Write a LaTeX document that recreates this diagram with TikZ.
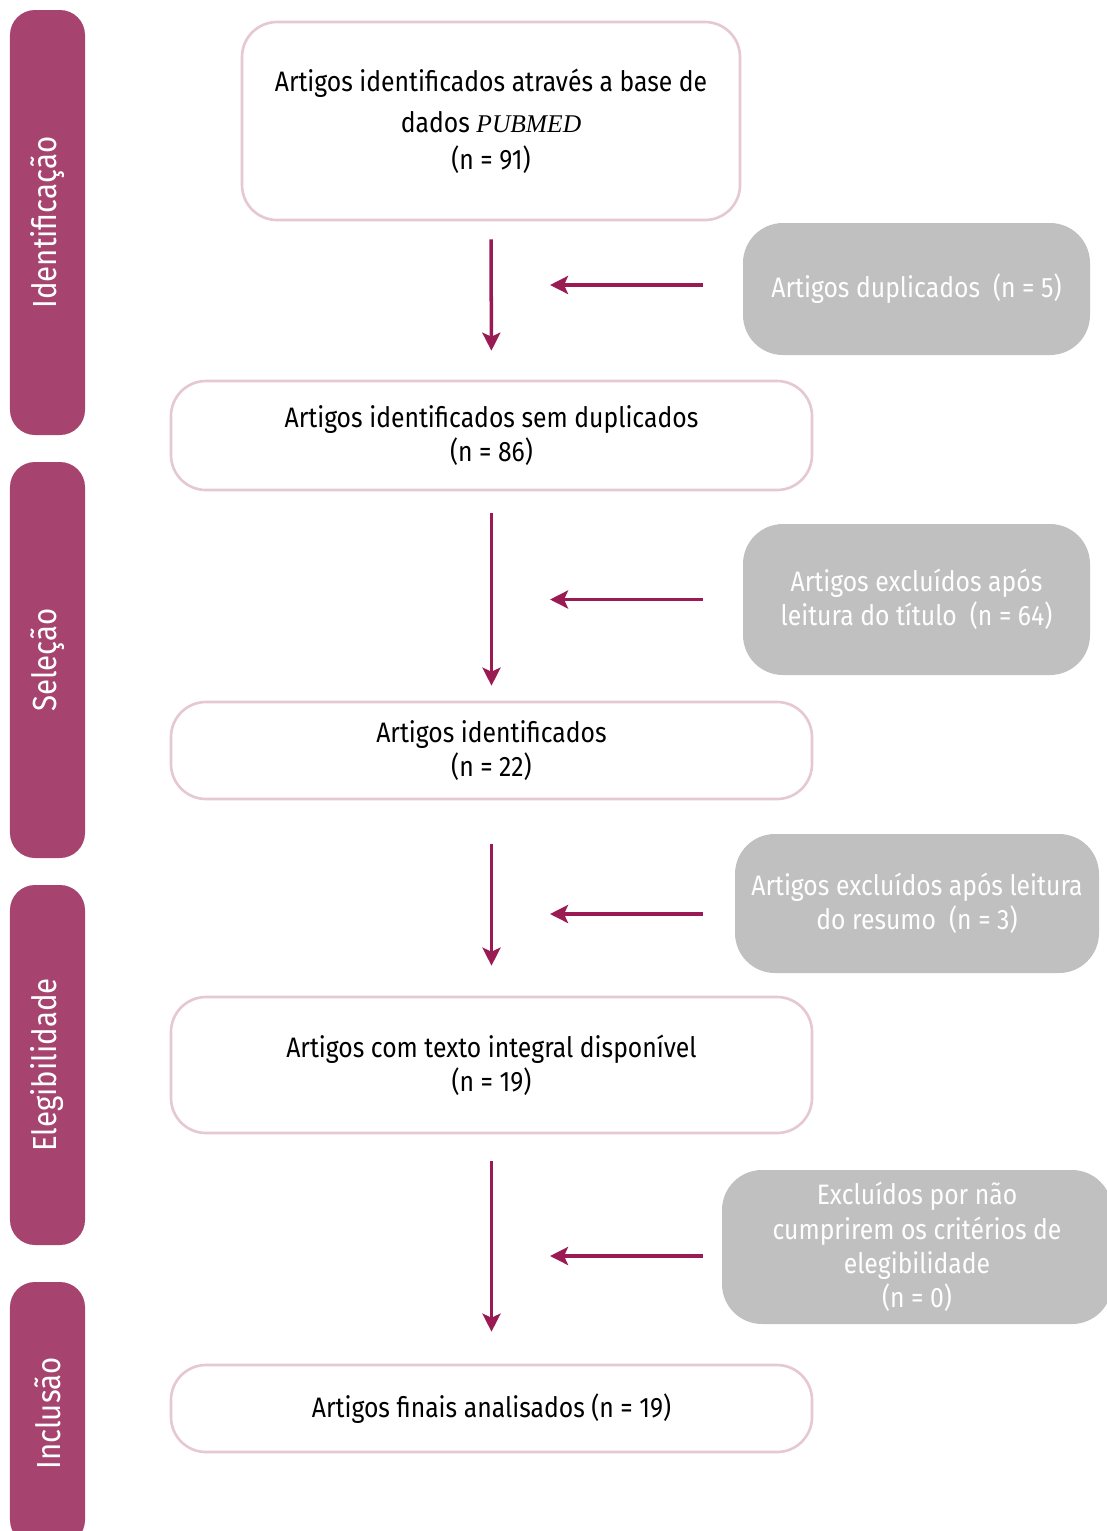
\documentclass[tikz,border=0pt]{standalone}
\usepackage{fontspec}
\setmainfont{Fira Sans}[FakeStretch=0.88]
\newfontfamily\pubfont{Liberation Serif}
\usetikzlibrary{arrows.meta}
\definecolor{stagecol}{HTML}{A6446F}
\definecolor{arrowcol}{HTML}{9A1A54}
\definecolor{edgecol}{HTML}{E6C8D5}
\definecolor{outcol}{HTML}{C0C0C0}
\begin{document}
\begin{tikzpicture}[font=\fontsize{16}{19.5}\selectfont,
  stage/.style={fill=stagecol,text=white,rounded corners=.5cm,rotate=90,minimum height=1.5cm,inner sep=0pt,font=\fontsize{19}{22}\selectfont},
  flowbox/.style={draw=edgecol,line width=1.5pt,fill=white,rounded corners=.7cm,align=center,inner sep=0pt},
  outbox/.style={fill=outcol,text=white,rounded corners=.8cm,align=center,inner sep=0pt},
  flowarrow/.style={draw=arrowcol,line width=2pt,-{Stealth[length=.36cm,width=.36cm,inset=.08cm]}}]
\useasboundingbox (0,0) rectangle (22.14,-30.62);
\node[stage,minimum width=8.5cm] (ident) at (.95,-4.45) {Identificação};
\node[stage,minimum width=7.92cm] (selec) at (.95,-13.2) {Seleção};
\node[stage,minimum width=7.2cm] (eleg) at (.95,-21.3) {Elegibilidade};
\node[stage,minimum width=5.26cm] (incl) at (.95,-28.27) {Inclusão};
\node[flowbox,minimum width=9.96cm,minimum height=3.96cm] (found) at (9.82,-2.42) {Artigos identificados através a base de\\[3.8pt] dados {\pubfont\fontsize{14.5}{19.5}\selectfont\itshape PUBMED}\\[1.5pt] (n = 91)};
\node[flowbox,minimum width=12.82cm,minimum height=2.18cm] (nodup) at (9.83,-8.71) {Artigos identificados sem duplicados\\ (n = 86)};
\node[flowbox,minimum width=12.82cm,minimum height=1.94cm] (screened) at (9.83,-15.01) {Artigos identificados\\ (n = 22)};
\node[flowbox,minimum width=12.82cm,minimum height=2.72cm] (fulltext) at (9.83,-21.3) {Artigos com texto integral disponível\\ (n = 19)};
\node[flowbox,minimum width=12.82cm,minimum height=1.74cm] (final) at (9.83,-28.17) {Artigos finais analisados (n = 19)};
\node[outbox,minimum width=6.94cm,minimum height=2.64cm] (dup) at (18.33,-5.78) {Artigos duplicados\ \ (n = 5)};
\node[outbox,minimum width=6.94cm,minimum height=3.02cm] (title) at (18.33,-11.99) {Artigos excluídos após\\ leitura do título\ \ (n = 64)};
\node[outbox,minimum width=7.28cm,minimum height=2.78cm] (abstr) at (18.34,-18.07) {Artigos excluídos após leitura\\ do resumo\ \ (n = 3)};
\node[outbox,minimum width=7.8cm,minimum height=3.08cm] (crit) at (18.34,-24.94) {Excluídos por não\\ cumprirem os critérios de\\ elegibilidade\\ (n = 0)};
\draw[flowarrow,shorten <=.36cm,shorten >=.58cm] (found.south) -- (nodup.north);
\draw[flowarrow,shorten <=.44cm,shorten >=.3cm] (nodup.south) -- (screened.north);
\draw[flowarrow,shorten <=.88cm,shorten >=.6cm] (screened.south) -- (fulltext.north);
\draw[flowarrow,shorten <=.54cm,shorten >=.64cm] (fulltext.south) -- (final.north);
\draw[flowarrow,shorten <=.8cm,shorten >=1.18cm] ([yshift=.08cm]dup.west) -- ([yshift=.08cm]dup.west -| found.south);
\draw[flowarrow,shorten <=.8cm,shorten >=1.18cm] (title.west) -- (title.west -| found.south);
\draw[flowarrow,shorten <=.64cm,shorten >=1.18cm] ([yshift=-.21cm]abstr.west) -- ([yshift=-.21cm]abstr.west -| found.south);
\draw[flowarrow,shorten <=.38cm,shorten >=1.18cm] ([yshift=-.18cm]crit.west) -- ([yshift=-.18cm]crit.west -| found.south);
\end{tikzpicture}
\end{document}
